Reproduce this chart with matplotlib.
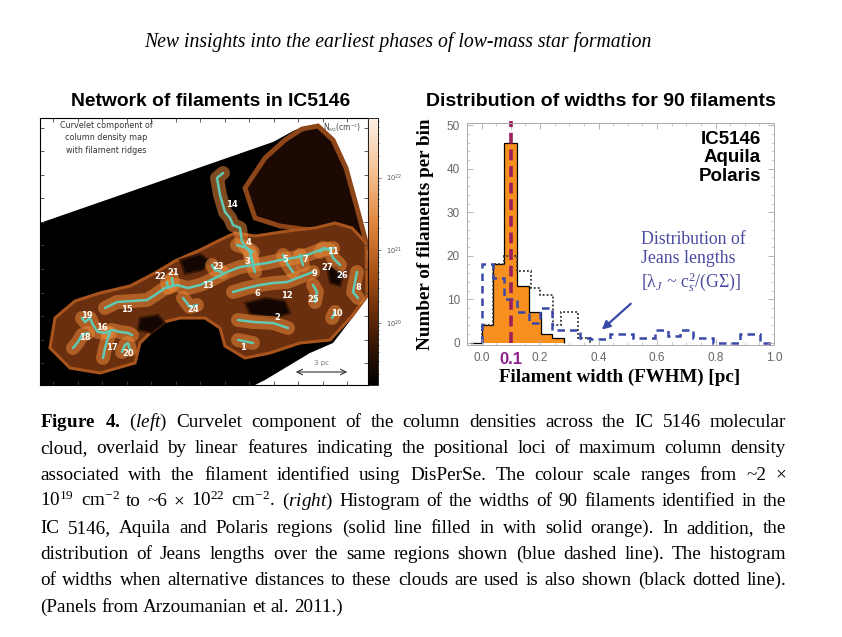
import numpy as np
import matplotlib
matplotlib.use('Agg')
import matplotlib.pyplot as plt
from matplotlib.colors import LinearSegmentedColormap, LogNorm
from matplotlib.patches import Polygon
from matplotlib.cm import ScalarMappable
import matplotlib.ticker as mticker

plt.rcParams['mathtext.fontset'] = 'custom'
plt.rcParams['mathtext.rm'] = 'Liberation Serif'
plt.rcParams['mathtext.it'] = 'Liberation Serif:italic'
plt.rcParams['mathtext.bf'] = 'Liberation Serif:bold'

# ---- right panel: histograms of filament widths (pc) ----
width_edges = [-0.04, 0.0, 0.038, 0.076, 0.12, 0.162, 0.202, 0.242, 0.282]
width_counts = [0, 4, 18, 46, 13, 7, 2, 1]
altdist_edges = [0.0, 0.038, 0.076, 0.12, 0.168, 0.2, 0.245, 0.27, 0.33, 0.37]
altdist_counts = [4, 18, 20, 16.5, 12.5, 11, 4, 7, 1]
jeans_edges = [0.0, 0.038, 0.076, 0.12, 0.162, 0.2, 0.24, 0.28, 0.336, 0.37,
               0.44, 0.518, 0.592, 0.637, 0.68, 0.723, 0.79, 0.883, 0.952, 0.99]
jeans_counts = [18, 15, 10, 7, 4.5, 8, 3, 3, 1, 0.8, 2, 1, 3, 1.5, 3, 1, 0, 2, 0]
xtick_vals = [0.0, 0.1, 0.2, 0.4, 0.6, 0.8, 1.0]
xtick_text = ['0.0', '0.1', '0.2', '0.4', '0.6', '0.8', '1.0']
regions = 'IC5146\nAquila\nPolaris'

# ---- left panel: map of IC5146 (map pixel coords, y downwards) ----
footprint_x = [0, 233, 255, 275, 293, 307, 318, 327, 328, 313, 293, 270, 245, 225, 215, 0]
footprint_y = [105, 24, 12, 7, 22, 52, 92, 125, 179, 199, 225, 235, 250, 262, 267, 267]
lobe_x = [225, 245, 262, 278, 293, 306, 317, 325, 327, 300, 270, 240, 215, 205]
lobe_y = [40, 22, 11, 8, 22, 50, 90, 120, 130, 118, 112, 108, 100, 70]
body_x = [10, 15, 35, 60, 90, 115, 135, 160, 180, 195, 215, 235, 255, 275, 295, 312,
          326, 327, 312, 290, 260, 230, 205, 185, 180, 165, 140, 120, 100, 95, 60, 30]
body_y = [230, 200, 183, 175, 168, 155, 143, 132, 122, 115, 118, 115, 112, 110, 105, 110,
          125, 178, 198, 222, 225, 235, 240, 228, 210, 200, 200, 205, 225, 245, 255, 250]
holes = [
    ([205, 225, 245, 250, 235, 210], [185, 180, 183, 195, 200, 196]),
    ([287, 297, 303, 300, 290], [150, 148, 158, 168, 165]),
    ([140, 160, 170, 163, 145], [142, 136, 143, 152, 156]),
    ([100, 118, 125, 112, 98], [200, 197, 205, 215, 212]),
]

filaments = {
    '14': ([183, 177, 180, 185, 190, 193, 200, 202, 210, 213], [55, 60, 77, 94, 100, 107, 110, 124, 134, 144]),
    'main': ([65, 77, 92, 107, 115, 125, 137, 148, 160, 167, 177, 187, 200, 213, 227, 240, 253, 267, 280, 293],
             [190, 184, 183, 182, 177, 170, 167, 170, 167, 164, 159, 154, 149, 147, 145, 142, 140, 137, 132, 130]),
    '6': ([193, 207, 220, 233, 247, 260, 273], [174, 170, 167, 165, 164, 159, 154]),
    '5': ([243, 248, 253], [137, 147, 154]),
    '7': ([260, 263], [137, 147]),
    '11': ([280, 283, 290, 293, 300], [134, 130, 132, 140, 147]),
    '8': ([317, 315, 313, 318], [154, 164, 174, 180]),
    '25': ([273, 277, 275], [167, 174, 184]),
    '10': ([295, 292], [194, 200]),
    '2': ([198, 213, 233, 248], [202, 204, 205, 210]),
    '1': ([198, 213], [222, 225]),
    '24': ([143, 150, 157], [180, 189, 187]),
    '22': ([127, 128], [164, 170]),
    '21': ([132, 133], [160, 167]),
    '23': ([172, 175, 182], [147, 152, 154]),
    '4': ([197, 207, 213], [127, 130, 134]),
    '3': ([210, 213, 215], [137, 147, 154]),
    '19': ([42, 45, 50, 53, 58, 67], [200, 204, 200, 207, 214, 215]),
    '16': ([67, 72, 80, 88, 92], [214, 212, 214, 215, 217]),
    '18': ([33, 38, 42, 48], [230, 224, 217, 215]),
    '17': ([63, 65, 68, 70], [240, 230, 220, 215]),
    '20': ([82, 85, 88, 90], [234, 227, 225, 232]),
}
label_names = ['14', '4', '3', '5', '7', '11', '27', '9', '26', '8', '6', '12', '25', '10',
               '2', '1', '13', '24', '23', '22', '21', '15', '19', '16', '18', '17', '20']
label_x = [192, 208, 207, 245, 265, 293, 287, 275, 302, 318, 217, 247, 273, 297,
           237, 203, 168, 153, 178, 120, 133, 87, 47, 62, 45, 72, 88]
label_y = [87, 125, 144, 142, 142, 134, 150, 156, 158, 170, 175, 177, 182, 195,
           200, 229, 167, 192, 149, 159, 155, 192, 198, 210, 220, 229, 235]
cbar_min, cbar_max = 1.4e19, 6.6e22

caption_lines = [
    r'$\mathbf{Figure}$ $\mathbf{4.}$ ($\mathit{left}$) Curvelet component of the column densities across the IC 5146 molecular',
    'cloud, overlaid by linear features indicating the positional loci of maximum column density',
    'associated with the filament identified using DisPerSe. The colour scale ranges from ~2 ×',
    r'10$^{19}$ cm$^{-2}$ to ~6 × 10$^{22}$ cm$^{-2}$. ($\mathit{right}$) Histogram of the widths of 90 filaments identified in the',
    'IC 5146, Aquila and Polaris regions (solid line filled in with solid orange). In addition, the',
    'distribution of Jeans lengths over the same regions shown (blue dashed line). The histogram',
    'of widths when alternative distances to these clouds are used is also shown (black dotted line).',
    '(Panels from Arzoumanian et al. 2011.)',
]

W, H = 842, 637
fig = plt.figure(figsize=(W / 100, H / 100), dpi=100)

def fx(px):
    return px / W

def fy(py):
    return 1 - py / H

fig.text(fx(398), fy(42), 'New insights into the earliest phases of low-mass star formation',
         family='Liberation Serif', style='italic', fontsize=14.2, ha='center', va='center')

# ---------- left panel ----------
axl = fig.add_axes([fx(40), fy(385), fx(328), 267 / H])
axl.set_xlim(0, 328)
axl.set_ylim(267, 0)
axl.add_patch(Polygon(np.column_stack([footprint_x, footprint_y]), closed=True, fc='black', ec='none'))
axl.add_patch(Polygon(np.column_stack([lobe_x, lobe_y]), closed=True, fc='#1c0903', ec='#8e4619', lw=3.5))
axl.add_patch(Polygon(np.column_stack([body_x, body_y]), closed=True, fc='#6a2f0e', ec='#a8541c', lw=2.2))
for hx, hy in holes:
    axl.add_patch(Polygon(np.column_stack([hx, hy]), closed=True, fc='#140602', ec='#3a1806', lw=1.5))
for name, (xs, ys) in filaments.items():
    axl.plot(xs, ys, color='#e8883a', lw=10, alpha=0.55, solid_capstyle='round')
for name, (xs, ys) in filaments.items():
    axl.plot(xs, ys, color='#5fc9b4', lw=1.8, solid_capstyle='round')
for n, x, y in zip(label_names, label_x, label_y):
    axl.text(x, y, n, color='white', fontsize=6, fontweight='bold', ha='center', va='center')
axl.text(66, 20, 'Curvelet component of\ncolumn density map\nwith filament ridges', fontsize=5.8,
         color='#333333', ha='center', va='center', linespacing=1.45)
axl.text(302, 10, r'N$_{H2}$(cm$^{-2}$)', fontsize=5.5, color='#444444', ha='center', va='center')
axl.annotate('', xy=(310, 254), xytext=(253, 254),
             arrowprops=dict(arrowstyle='<->', color='#333333', lw=0.8))
axl.text(282, 245, '3 pc', fontsize=5, color='#777777', ha='center', va='center')
axl.set_xticks(np.arange(13, 328, 24.5))
axl.set_yticks(np.arange(10, 267, 23.5))
axl.tick_params(direction='in', length=3, width=0.6, color='#444444', top=True, right=True,
                labelleft=False, labelbottom=False)
for s in axl.spines.values():
    s.set_linewidth(0.8)

fig.text(fx(211), fy(101), 'Network of filaments in IC5146', family='Liberation Sans',
         fontweight='bold', fontsize=13.9, ha='center', va='center')

# colorbar
cax = fig.add_axes([fx(368), fy(385), fx(10), 267 / H])
cmap = LinearSegmentedColormap.from_list('nh2', ['black', '#4a1e04', '#a04c14', '#e0843c', '#f4c193', '#fdf1e6'])
cb = fig.colorbar(ScalarMappable(norm=LogNorm(cbar_min, cbar_max), cmap=cmap), cax=cax)
cb.outline.set_linewidth(0.6)
cax.tick_params(labelsize=4.8, colors='#555555', length=2, width=0.5)
cax.tick_params(which='minor', length=1, width=0.4)

# ---------- right panel ----------
ax = fig.add_axes([fx(467), fy(345), fx(307), 222 / H])
ax.stairs(width_counts, width_edges, fill=True, color='#f7901e')
ax.stairs(width_counts, width_edges, color='black', lw=0.9)
ax.stairs(altdist_counts, altdist_edges, color='#333333', lw=1.3, ls=(0, (1, 1.2)))
ax.stairs(jeans_counts, jeans_edges, color='#3a48a8', lw=1.8, ls=(0, (3, 2)))
ax.plot([0.1, 0.1], [0, 51], color='#9a1f5a', lw=2.6, ls=(0, (3, 1.6)), clip_on=False)
ax.set_xlim(-0.05, 1.0)
ax.set_ylim(-0.5, 50.5)
ax.set_xticks(xtick_vals)
ax.set_xticklabels(xtick_text)
ax.xaxis.set_minor_locator(mticker.MultipleLocator(0.05))
ax.yaxis.set_major_locator(mticker.MultipleLocator(10))
ax.yaxis.set_minor_locator(mticker.MultipleLocator(2))
ax.tick_params(direction='in', top=True, right=True, length=4, width=0.6, color='#aaaaaa',
               labelsize=8.5, labelcolor='#666666', pad=5)
ax.tick_params(which='minor', direction='in', top=True, right=True, length=2, width=0.5, color='#bbbbbb')
for lab in ax.get_xticklabels() + ax.get_yticklabels():
    lab.set_family('Liberation Sans')
lab01 = ax.get_xticklabels()[1]
lab01.set_fontsize(12)
lab01.set_fontweight('bold')
lab01.set_color('#8e1f8e')
ax.xaxis.get_major_ticks()[1].tick1line.set_visible(False)
for s in ax.spines.values():
    s.set_color('#aaaaaa')
    s.set_linewidth(0.7)
ax.text(0.955, 42.5, regions, family='Liberation Sans', fontweight='bold', fontsize=13.5,
        ha='right', va='center', linespacing=1.1)
ax.text(0.545, 18.5, 'Distribution of\nJeans lengths\n' + r'[λ$_J$ ~ c$_s^2$/(G$\Sigma$)]',
        family='Liberation Serif', fontsize=12.8, color='#4a4aa0', ha='left', va='center', linespacing=1.2)
ax.annotate('', xy=(0.404, 2.6), xytext=(0.517, 9.4),
            arrowprops=dict(arrowstyle='-|>', color='#3a48a8', lw=1.6, mutation_scale=12))

fig.text(fx(601), fy(102), 'Distribution of widths for 90 filaments', family='Liberation Sans',
         fontweight='bold', fontsize=14, ha='center', va='center')
fig.text(fx(425), fy(234), 'Number of filaments per bin', family='Liberation Serif',
         fontweight='bold', fontsize=13.8, rotation=90, ha='center', va='center')
fig.text(fx(620), fy(377), 'Filament width (FWHM) [pc]', family='Liberation Serif',
         fontweight='bold', fontsize=13.7, ha='center', va='center')

# ---------- caption, justified ----------
renderer = fig.canvas.get_renderer()
cap_size = 13.8
cap_left, cap_right = 40, 786
for i, line in enumerate(caption_lines):
    words = line.split(' ')
    ypos = fy(427 + i * 26.4)
    texts = [fig.text(0, ypos, w, family='Liberation Serif', fontsize=cap_size, va='baseline')
             for w in words]
    widths = [t.get_window_extent(renderer).width for t in texts]
    if i < len(caption_lines) - 1:
        gap = (cap_right - cap_left - sum(widths)) / (len(words) - 1)
    else:
        gap = cap_size * 100 / 72 * 0.25
    x = cap_left
    for t, w in zip(texts, widths):
        t.set_x(fx(x))
        x += w + gap

fig.savefig('out.png', dpi=100)
